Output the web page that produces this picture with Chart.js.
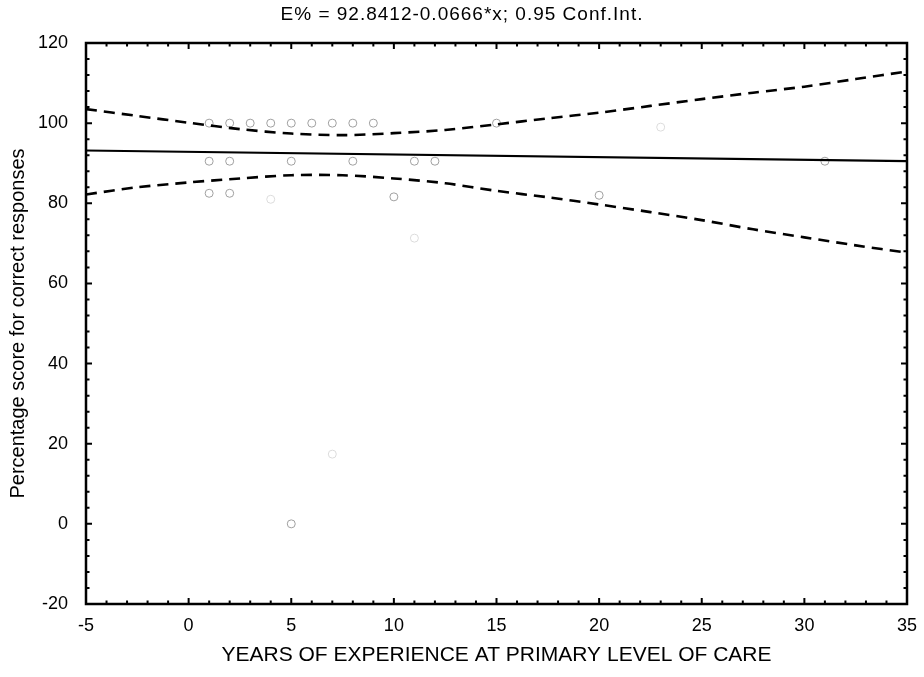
<!DOCTYPE html>
<html>
<head>
<meta charset="utf-8">
<script src="https://cdn.jsdelivr.net/npm/chart.js@4/dist/chart.umd.min.js"></script>
<style>
  html, body { margin: 0; padding: 0; background: #ffffff; }
  #wrap { width: 924px; height: 677px; }
</style>
</head>
<body>
<div id="wrap"><canvas id="c" width="924" height="677"></canvas></div>
<script>
// Observed scores (years of experience vs. % correct)
const scoreX = [1, 2, 3, 4, 5, 6, 7, 8, 9, 15, 1, 2, 5, 8, 11, 12, 31, 1, 2, 10, 20, 5];
const scoreY = [100, 100, 100, 100, 100, 100, 100, 100, 100, 100,
                90.5, 90.5, 90.5, 90.5, 90.5, 90.5, 90.5,
                82.5, 82.5, 81.6, 82, 0];
// Barely printed observations
const faintX = [23, 4, 11, 7];
const faintY = [99, 81, 71.3, 17.4];

// Fitted line E% = 92.8412 - 0.0666*x, at the axis ends
const fitX = [-5, 35];
const fitY = [93.17, 90.51];

// 95% confidence band
const bandX = [-5, -2.5, 0, 2.5, 5, 7.5, 10, 12.5, 15, 17.5, 20, 22.5, 25, 27.5, 30, 32.5, 35];
const bandUpper = [103.5, 101.8, 100.1, 98.5, 97.4, 97.0, 97.5, 98.3, 99.7, 101.2, 102.6, 104.3, 106.0, 107.6, 109.1, 111.0, 112.9];
const bandLower = [82.2, 84.0, 85.2, 86.2, 87.0, 87.0, 86.2, 85.0, 83.1, 81.5, 79.7, 77.8, 75.8, 73.5, 71.5, 69.5, 67.7];

// Axis tick labels
const xTickLabels = [-5, 0, 5, 10, 15, 20, 25, 30, 35];
const yTickLabels = [-20, 0, 20, 40, 60, 80, 100, 120];

const titleText = 'E% = 92.8412-0.0666*x; 0.95 Conf.Int.';
const xTitle = 'YEARS OF EXPERIENCE AT PRIMARY LEVEL OF CARE';
const yTitle = 'Percentage score for correct responses';

const pts = (xs, ys) => xs.map((x, i) => ({ x: x, y: ys[i] }));
const font = 'Liberation Sans, Arial, Helvetica, sans-serif';

// Frame with inward major/minor ticks on all four sides, plus the heading
const frameTicks = {
  id: 'frameTicks',
  afterDatasetsDraw(chart) {
    const { ctx, chartArea: a, scales } = chart;
    const xs = scales.x, ys = scales.y;
    ctx.save();
    ctx.strokeStyle = '#000';
    ctx.lineWidth = 2.5;
    ctx.strokeRect(a.left, a.top, a.right - a.left, a.bottom - a.top);
    ctx.lineWidth = 2;
    ctx.beginPath();
    for (let v = xs.min; v <= xs.max + 1e-9; v += 1) {
      const px = xs.getPixelForValue(v);
      const len = (Math.abs(v % 5) < 1e-9) ? 6 : 3.5;
      ctx.moveTo(px, a.bottom); ctx.lineTo(px, a.bottom - len);
      ctx.moveTo(px, a.top); ctx.lineTo(px, a.top + len);
    }
    for (let v = ys.min; v <= ys.max + 1e-9; v += 4) {
      const py = ys.getPixelForValue(v);
      const len = (Math.abs(v % 20) < 1e-9) ? 6 : 3.5;
      ctx.moveTo(a.left, py); ctx.lineTo(a.left + len, py);
      ctx.moveTo(a.right, py); ctx.lineTo(a.right - len, py);
    }
    ctx.stroke();

    // heading, slightly letter-spaced
    ctx.fillStyle = '#000';
    ctx.font = '19px ' + font;
    ctx.textAlign = 'center';
    ctx.textBaseline = 'middle';
    if ('letterSpacing' in ctx) ctx.letterSpacing = '1px';
    ctx.fillText(titleText, chart.width / 2, 15);
    ctx.restore();
  }
};

new Chart(document.getElementById('c'), {
  type: 'scatter',
  data: {
    datasets: [
      {
        label: 'Upper 95%',
        data: pts(bandX, bandUpper),
        showLine: true, borderColor: '#000', borderWidth: 2.6,
        borderDash: [11, 7], pointRadius: 0, tension: 0.3, fill: false
      },
      {
        label: 'Lower 95%',
        data: pts(bandX, bandLower),
        showLine: true, borderColor: '#000', borderWidth: 2.6,
        borderDash: [11, 7], pointRadius: 0, tension: 0.3, fill: false
      },
      {
        label: 'Fit',
        data: pts(fitX, fitY),
        showLine: true, borderColor: '#000', borderWidth: 2.2,
        pointRadius: 0, fill: false
      },
      {
        label: 'Scores',
        data: pts(scoreX, scoreY),
        showLine: false, pointStyle: 'circle', pointRadius: 4,
        pointBorderWidth: 1, pointBorderColor: '#a0a0a0',
        pointBackgroundColor: 'rgba(0,0,0,0)'
      },
      {
        label: 'Scores (faint)',
        data: pts(faintX, faintY),
        showLine: false, pointStyle: 'circle', pointRadius: 4,
        pointBorderWidth: 1, pointBorderColor: '#dcdcdc',
        pointBackgroundColor: 'rgba(0,0,0,0)'
      }
    ]
  },
  options: {
    responsive: false,
    animation: false,
    layout: { padding: { top: 43, right: 17, bottom: 0, left: 0 } },
    plugins: {
      legend: { display: false },
      tooltip: { enabled: false },
      title: { display: false }
    },
    scales: {
      x: {
        type: 'linear', min: -5, max: 35,
        afterBuildTicks: s => { s.ticks = xTickLabels.map(v => ({ value: v })); },
        afterFit: s => { s.height = 73; s.paddingLeft = 0; s.paddingRight = 0; },
        grid: { display: false, drawTicks: false },
        border: { display: false },
        ticks: { color: '#000', padding: 11, maxRotation: 0,
                 font: { family: font, size: 18 } },
        title: { display: true, text: xTitle, color: '#000',
                 font: { family: font, size: 21 }, padding: { top: 0, bottom: 9 } }
      },
      y: {
        type: 'linear', min: -20, max: 120,
        afterBuildTicks: s => { s.ticks = yTickLabels.map(v => ({ value: v })); },
        afterFit: s => { s.width = 86; s.paddingTop = 0; s.paddingBottom = 0; },
        grid: { display: false, drawTicks: false },
        border: { display: false },
        ticks: { color: '#000', padding: 18,
                 font: { family: font, size: 18 } },
        title: { display: true, text: yTitle, color: '#000',
                 font: { family: font, size: 20 }, padding: { top: 6, bottom: 0 } }
      }
    }
  },
  plugins: [frameTicks]
});
</script>
</body>
</html>
